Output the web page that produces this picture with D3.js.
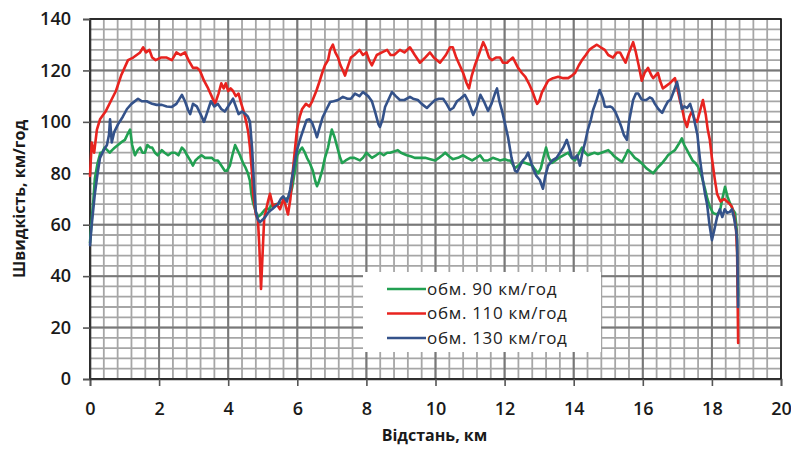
<!DOCTYPE html>
<html>
<head>
<meta charset="utf-8">
<script src="https://cdn.jsdelivr.net/npm/d3@7"></script>
<style>
  html, body { margin: 0; padding: 0; background: #fff; }
  svg { display: block; }
</style>
</head>
<body>
<svg id="chart" width="791" height="449"></svg>
<script>
// Axis ticks
const xTicks = [0, 2, 4, 6, 8, 10, 12, 14, 16, 18, 20];
const yTicks = [0, 20, 40, 60, 80, 100, 120, 140];

// Series names as shown in the legend
const seriesNames = ["обм. 90 км/год", "обм. 110 км/год", "обм. 130 км/год"];

// Speed along the route, [distance km, speed km/h]
const speed90 = [
  [0, 53], [0.05, 62], [0.1, 70], [0.14, 78], [0.22, 84], [0.3, 88], [0.35, 88], [0.42, 90], [0.5, 89], [0.57, 88],
  [0.64, 89], [0.72, 90], [0.81, 91], [0.9, 92], [1.01, 93], [1.08, 95], [1.16, 97], [1.22, 91], [1.3, 87], [1.38, 89],
  [1.45, 90], [1.52, 88], [1.59, 88], [1.66, 91], [1.74, 90], [1.8, 90], [1.88, 88], [1.96, 87], [2.08, 89], [2.16, 88],
  [2.26, 87], [2.36, 88], [2.46, 88], [2.56, 87], [2.66, 90], [2.73, 89], [2.81, 87], [2.9, 85], [2.98, 83], [3.05, 85],
  [3.13, 86], [3.23, 87], [3.33, 86], [3.43, 86], [3.53, 86], [3.6, 85], [3.7, 85], [3.8, 83], [3.9, 81], [3.96, 81],
  [4.05, 83], [4.12, 87], [4.2, 91], [4.27, 89], [4.34, 87], [4.43, 84], [4.49, 82.5], [4.57, 80], [4.63, 77], [4.67, 72],
  [4.72, 68.5], [4.8, 65], [4.86, 63], [4.95, 64], [5.07, 66], [5.17, 66], [5.27, 67.7], [5.4, 68], [5.56, 68.5], [5.67, 70],
  [5.79, 71], [5.86, 75], [5.93, 81], [6.0, 87], [6.08, 89], [6.14, 90], [6.22, 88], [6.28, 86], [6.36, 84], [6.45, 81],
  [6.52, 77], [6.57, 75], [6.63, 77], [6.72, 81], [6.8, 86], [6.89, 90], [6.95, 94], [7.0, 97], [7.08, 94], [7.18, 89],
  [7.24, 86], [7.3, 84], [7.4, 85], [7.53, 86], [7.65, 86], [7.81, 85], [7.9, 86], [8.0, 88], [8.08, 87], [8.16, 86],
  [8.28, 87], [8.39, 88], [8.5, 87], [8.6, 88], [8.68, 88], [8.8, 88.5], [8.91, 89], [9.0, 88], [9.17, 87], [9.3, 86.5],
  [9.4, 86], [9.55, 86], [9.7, 86], [9.85, 85.5], [9.99, 85], [10.1, 86], [10.2, 87], [10.28, 88], [10.4, 86.5], [10.5, 85.5],
  [10.65, 86], [10.8, 87], [10.92, 86], [11.06, 85], [11.18, 86], [11.29, 87], [11.4, 85], [11.52, 85], [11.66, 86], [11.78, 85.5],
  [11.87, 85], [12.0, 85.5], [12.1, 85], [12.16, 85], [12.3, 82], [12.4, 83], [12.5, 84.5], [12.6, 84], [12.7, 83.5], [12.8, 83],
  [12.88, 81.5], [12.97, 80], [13.05, 82], [13.12, 86], [13.2, 90], [13.28, 86], [13.37, 84], [13.47, 85], [13.57, 86], [13.7, 87],
  [13.84, 88], [13.94, 86], [14.04, 85], [14.12, 87], [14.24, 90], [14.33, 88], [14.41, 87], [14.5, 87.5], [14.6, 88], [14.7, 87.5],
  [14.8, 88], [14.9, 88.5], [15.0, 89], [15.08, 88], [15.18, 86.5], [15.28, 85.5], [15.4, 84.4], [15.5, 87], [15.57, 89], [15.65, 88],
  [15.77, 86], [15.88, 85], [16.0, 83.5], [16.1, 82], [16.2, 81], [16.3, 80], [16.42, 82], [16.56, 84], [16.65, 85.5], [16.73, 87],
  [16.82, 88], [16.93, 89], [17.0, 90.5], [17.07, 92], [17.13, 93.6], [17.2, 91], [17.28, 89], [17.36, 87], [17.44, 85], [17.52, 84],
  [17.6, 82.5], [17.7, 79], [17.8, 74], [17.87, 70], [17.94, 67], [18.03, 64.6], [18.13, 64], [18.23, 65], [18.3, 70], [18.38, 74.7],
  [18.45, 71], [18.52, 68.5], [18.6, 66], [18.67, 64.6], [18.72, 58], [18.76, 32]
];

const speed110 = [
  [0, 79], [0.05, 92], [0.12, 88], [0.2, 97], [0.29, 101], [0.45, 104], [0.6, 108], [0.75, 112], [0.9, 118], [1.1, 124],
  [1.25, 125], [1.35, 126], [1.45, 127], [1.54, 129], [1.62, 127], [1.72, 128], [1.8, 125], [1.9, 124], [2.05, 125], [2.22, 125],
  [2.37, 124], [2.5, 127], [2.62, 126], [2.75, 127], [2.85, 124], [2.98, 121], [3.1, 121], [3.18, 120], [3.3, 116], [3.42, 113],
  [3.52, 110], [3.62, 107], [3.72, 111], [3.8, 115], [3.87, 113], [3.93, 115], [4.0, 112], [4.07, 113], [4.14, 112], [4.22, 110],
  [4.3, 111], [4.38, 107], [4.45, 104], [4.52, 100], [4.58, 96], [4.63, 90], [4.69, 80], [4.72, 72], [4.8, 64], [4.86, 62],
  [4.9, 52], [4.95, 35], [5.0, 50], [5.04, 62], [5.1, 66], [5.15, 69], [5.21, 72], [5.3, 67], [5.4, 68], [5.5, 66],
  [5.6, 70], [5.65, 68], [5.73, 64], [5.8, 70], [5.85, 78], [5.93, 89], [5.99, 97], [6.07, 102], [6.14, 105], [6.25, 107],
  [6.35, 106], [6.43, 108], [6.55, 112], [6.65, 116], [6.72, 119], [6.8, 122], [6.89, 124], [6.95, 128], [7.03, 130], [7.1, 127],
  [7.18, 125], [7.25, 122], [7.32, 120], [7.38, 118], [7.45, 121], [7.55, 125], [7.65, 126], [7.8, 128], [7.9, 126], [8.0, 127],
  [8.08, 124], [8.16, 122], [8.3, 126], [8.45, 127], [8.6, 128], [8.7, 126], [8.8, 126], [8.97, 128], [9.1, 127], [9.26, 129],
  [9.4, 126], [9.55, 123], [9.7, 125], [9.84, 127], [9.95, 125], [10.13, 123], [10.3, 126], [10.42, 129], [10.5, 129], [10.6, 125],
  [10.7, 122], [10.8, 119], [10.9, 115], [10.97, 113], [11.05, 118], [11.14, 122], [11.25, 126], [11.38, 131], [11.45, 129], [11.55, 125],
  [11.63, 124], [11.75, 125], [11.87, 125], [11.95, 123], [12.07, 123], [12.15, 124], [12.24, 125], [12.39, 121], [12.5, 119], [12.6, 117.5],
  [12.7, 115], [12.8, 112], [12.88, 109], [12.94, 107], [13.0, 108], [13.08, 111.5], [13.18, 114], [13.26, 116], [13.4, 117], [13.55, 117.5],
  [13.7, 117], [13.84, 117], [13.95, 118], [14.04, 119], [14.15, 122], [14.24, 124], [14.35, 126], [14.45, 128], [14.55, 129], [14.67, 130],
  [14.78, 129], [14.9, 128], [15.0, 126], [15.14, 125], [15.25, 127], [15.34, 127], [15.42, 125], [15.5, 123], [15.6, 127], [15.72, 131],
  [15.8, 127], [15.88, 122], [15.97, 116], [16.05, 119], [16.15, 121], [16.25, 118], [16.3, 117], [16.44, 119], [16.5, 116], [16.58, 113],
  [16.68, 114], [16.78, 115], [16.93, 117], [17.0, 113], [17.08, 108], [17.13, 106], [17.2, 101], [17.28, 98], [17.35, 102], [17.42, 104],
  [17.5, 101], [17.57, 100], [17.65, 104], [17.74, 108.5], [17.82, 103], [17.88, 97], [17.94, 93], [18.0, 86], [18.08, 78], [18.15, 72],
  [18.25, 69], [18.35, 70], [18.44, 69], [18.52, 68], [18.58, 67], [18.65, 63], [18.7, 58], [18.73, 49], [18.76, 14]
];

const speed130 = [
  [0, 52], [0.05, 60], [0.14, 72], [0.22, 80], [0.29, 86], [0.4, 89], [0.49, 91], [0.55, 95], [0.58, 101], [0.63, 92],
  [0.7, 96], [0.81, 99], [0.95, 102], [1.07, 105], [1.2, 107], [1.39, 109], [1.5, 108], [1.64, 108], [1.8, 107], [1.93, 106.6],
  [2.08, 106.6], [2.22, 106], [2.37, 105.8], [2.5, 107], [2.66, 110.5], [2.75, 108], [2.84, 104.6], [2.9, 103], [2.98, 107], [3.09, 106],
  [3.2, 103], [3.3, 100], [3.4, 104], [3.5, 108], [3.6, 106], [3.7, 107], [3.8, 105], [3.9, 104], [4.0, 106], [4.14, 109],
  [4.22, 106], [4.3, 103], [4.4, 104], [4.5, 103], [4.57, 102], [4.63, 100], [4.69, 90], [4.75, 75], [4.8, 65], [4.86, 62],
  [4.92, 61], [5.0, 62], [5.07, 63], [5.17, 65], [5.27, 66], [5.35, 67], [5.44, 68], [5.52, 70], [5.59, 71], [5.65, 70],
  [5.7, 69], [5.79, 73.5], [5.88, 81], [5.99, 89], [6.1, 94], [6.2, 98], [6.27, 100.7], [6.35, 101], [6.43, 99.6], [6.5, 97],
  [6.57, 94], [6.65, 98], [6.74, 102], [6.85, 105], [6.95, 107.7], [7.05, 108], [7.18, 108.5], [7.32, 109.7], [7.45, 109], [7.55, 109],
  [7.67, 111], [7.8, 110], [7.9, 111.6], [8.05, 110], [8.16, 108], [8.25, 104], [8.35, 99], [8.39, 98], [8.47, 101], [8.54, 105.8],
  [8.65, 109], [8.74, 111.6], [8.85, 110], [8.97, 108.5], [9.1, 108.5], [9.26, 109.7], [9.35, 109], [9.49, 108.5], [9.6, 107], [9.75, 105.4],
  [9.87, 107], [9.99, 108.5], [10.1, 109], [10.22, 109], [10.32, 107], [10.42, 104.6], [10.52, 105.5], [10.62, 108], [10.72, 109], [10.85, 110.5],
  [10.95, 108], [11.09, 102.7], [11.2, 106], [11.3, 110.5], [11.4, 108], [11.52, 104.3], [11.62, 107], [11.72, 111], [11.78, 113], [11.85, 108],
  [11.92, 104.6], [12.0, 100], [12.1, 94], [12.2, 86], [12.3, 81], [12.36, 80.5], [12.45, 83], [12.53, 85], [12.6, 86], [12.68, 88],
  [12.75, 85], [12.82, 82], [12.92, 79], [13.02, 77.4], [13.11, 74], [13.18, 79], [13.26, 83], [13.38, 85], [13.5, 86], [13.6, 88],
  [13.7, 90], [13.8, 93], [13.87, 90], [13.95, 86], [14.04, 86], [14.1, 87], [14.18, 83], [14.25, 88], [14.33, 92], [14.41, 97],
  [14.5, 101], [14.56, 104.6], [14.65, 108], [14.75, 112.4], [14.85, 109], [14.9, 106], [14.96, 105.8], [15.05, 106], [15.12, 105.5], [15.2, 104],
  [15.28, 101.5], [15.38, 98], [15.45, 95], [15.54, 93], [15.6, 100], [15.67, 105], [15.72, 108.5], [15.8, 111], [15.87, 111], [15.95, 109],
  [16.0, 108.5], [16.1, 108.5], [16.2, 109.5], [16.27, 109], [16.35, 107], [16.45, 105], [16.56, 103.5], [16.65, 106], [16.73, 108], [16.8, 108.5],
  [16.9, 112], [16.99, 115.5], [17.06, 111], [17.13, 105], [17.2, 106], [17.28, 105.4], [17.37, 107], [17.44, 104], [17.5, 100], [17.58, 95],
  [17.65, 86], [17.72, 79], [17.8, 72], [17.86, 68], [17.93, 60], [18.0, 54], [18.07, 58], [18.15, 63], [18.23, 66], [18.3, 63],
  [18.37, 66], [18.44, 64.6], [18.52, 65], [18.58, 66], [18.65, 62], [18.7, 58], [18.73, 54], [18.76, 28]
];

const seriesData = [speed90, speed110, speed130];
const seriesColors = ["#22a052", "#e8231f", "#34528a"];

const svg = d3.select("#chart");
const margin = { left: 90, right: 10, top: 19, bottom: 70 };
const W = 791, H = 449;

const x = d3.scaleLinear().domain([0, 20]).range([margin.left, W - margin.right]);
const y = d3.scaleLinear().domain([0, 140]).range([H - margin.bottom, margin.top]);

const FONT = "'Open Sans', 'DejaVu Sans', sans-serif";

// Grid: minor cells 0.4 km x 4 km/h, stronger lines on the tick values
const grid = svg.append("g");
const minorX = d3.range(0, 20.0001, 0.4);
const minorY = d3.range(0, 140.0001, 4);
grid.selectAll("line.vx").data(minorX).join("line")
  .attr("x1", d => x(d)).attr("x2", d => x(d))
  .attr("y1", y(0)).attr("y2", y(140))
  .attr("stroke", "#a6a6a6").attr("stroke-width", 1.8);
grid.selectAll("line.hy").data(minorY).join("line")
  .attr("x1", x(0)).attr("x2", x(20))
  .attr("y1", d => y(d)).attr("y2", d => y(d))
  .attr("stroke", "#a6a6a6").attr("stroke-width", 1.8);
grid.selectAll("line.mx").data(xTicks).join("line")
  .attr("x1", d => x(d)).attr("x2", d => x(d))
  .attr("y1", y(0)).attr("y2", y(140))
  .attr("stroke", "#787878").attr("stroke-width", 2);
grid.selectAll("line.my").data(yTicks).join("line")
  .attr("x1", x(0)).attr("x2", x(20))
  .attr("y1", d => y(d)).attr("y2", d => y(d))
  .attr("stroke", "#787878").attr("stroke-width", 2);

// Frame
svg.append("rect")
  .attr("x", x(0)).attr("y", y(140))
  .attr("width", x(20) - x(0)).attr("height", y(0) - y(140))
  .attr("fill", "none").attr("stroke", "#1a1a1a").attr("stroke-width", 1.6);

// Axes
const xAxis = svg.append("g")
  .attr("transform", `translate(0,${y(0)})`)
  .call(d3.axisBottom(x).tickValues(xTicks).tickFormat(d3.format("d")).tickSize(7).tickPadding(16));
const yAxis = svg.append("g")
  .attr("transform", `translate(${x(0)},0)`)
  .call(d3.axisLeft(y).tickValues(yTicks).tickFormat(d3.format("d")).tickSize(7).tickPadding(12));
[xAxis, yAxis].forEach(g => {
  g.select(".domain").attr("stroke", "#333").attr("stroke-width", 1.6);
  g.selectAll(".tick line").attr("stroke", "#555").attr("stroke-width", 1.6);
  g.selectAll(".tick text")
    .attr("fill", "#1a1a1a")
    .style("font-family", FONT).style("font-size", "18px").style("font-weight", 600);
});

// Speed lines
const line = d3.line().x(d => x(d[0])).y(d => y(d[1]));
svg.append("g").selectAll("path").data(seriesData).join("path")
  .attr("d", line)
  .attr("fill", "none")
  .attr("stroke", (d, i) => seriesColors[i])
  .attr("stroke-width", 2.6)
  .attr("stroke-linejoin", "round")
  .attr("stroke-linecap", "round");

// Axis titles
svg.append("text")
  .attr("x", (x(0) + x(20)) / 2 - 1).attr("y", 441)
  .attr("text-anchor", "middle")
  .style("font-family", FONT).style("font-size", "16px").style("font-weight", 700)
  .attr("fill", "#1a1a1a")
  .text("Відстань, км");
svg.append("text")
  .attr("transform", `translate(25,${(y(0) + y(140)) / 2}) rotate(-90)`)
  .attr("text-anchor", "middle")
  .style("font-family", FONT).style("font-size", "16px").style("font-weight", 700)
  .attr("fill", "#1a1a1a")
  .text("Швидкість, км/год");

// Legend
const legend = svg.append("g").attr("transform", "translate(363,272)");
legend.append("rect")
  .attr("width", 238).attr("height", 80)
  .attr("fill", "#fff");
const rows = legend.selectAll("g.row").data(seriesNames).join("g")
  .attr("transform", (d, i) => `translate(0,${17 + i * 24.5})`);
rows.append("line")
  .attr("x1", 24).attr("x2", 63)
  .attr("stroke", (d, i) => seriesColors[i]).attr("stroke-width", 2.6);
rows.append("text")
  .attr("x", 64).attr("dy", "0.35em")
  .style("font-family", FONT).style("font-size", "17px")
  .style("letter-spacing", "0.7px")
  .attr("fill", "#222")
  .text(d => d);
</script>
</body>
</html>
